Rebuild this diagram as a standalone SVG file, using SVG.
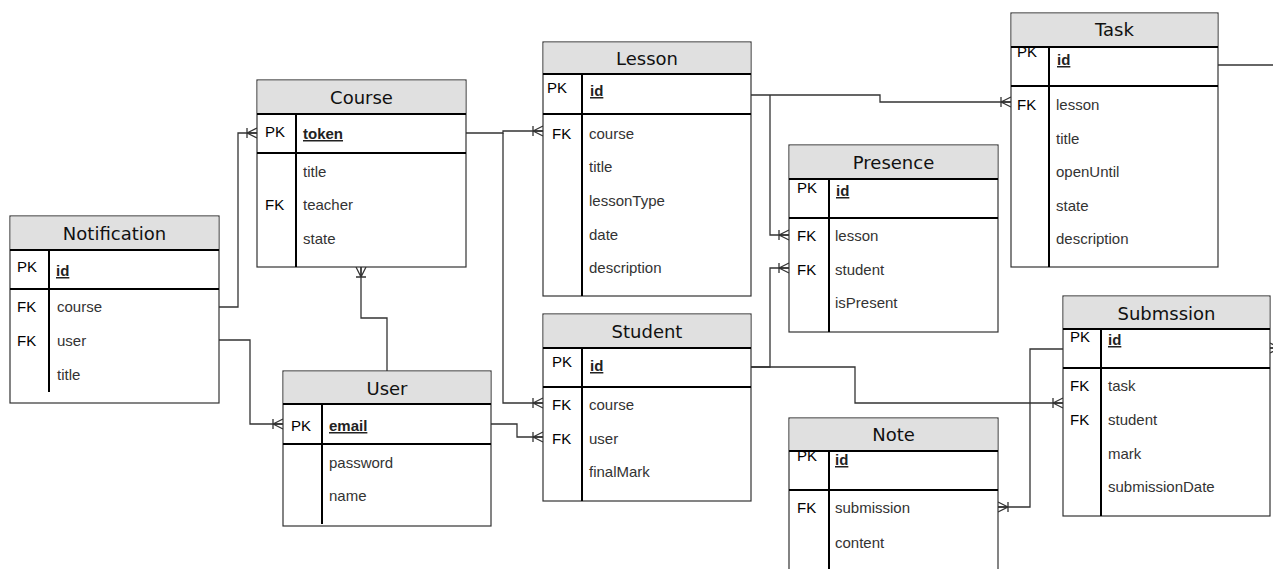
<svg xmlns="http://www.w3.org/2000/svg" width="1273" height="569" viewBox="0 0 1273 569">
<defs>
<style>
.bg{fill:#ffffff}
.box{fill:#ffffff;stroke:#333333;stroke-width:1.2}
.hdr{fill:#e0e0e0;stroke:none}
.thick{stroke:#000000;stroke-width:2;fill:none}
.ttl{font-family:"DejaVu Sans",sans-serif;font-size:18px;fill:#111111;text-anchor:middle}
.key{font-family:"Liberation Sans",Arial,sans-serif;font-size:15px;fill:#000000}
.fld{font-family:"Liberation Sans",Arial,sans-serif;font-size:15px;fill:#333333}
.pk{font-family:"Liberation Sans",Arial,sans-serif;font-size:15px;font-weight:bold;fill:#222222;text-decoration:underline}
.conn{fill:none;stroke:#333333;stroke-width:1.3}
</style>
<marker id="many" viewBox="0 0 12 12" markerWidth="12" markerHeight="12" refX="12" refY="6" orient="auto" markerUnits="userSpaceOnUse" overflow="visible">
<path d="M2,6 L12,1 M2,6 L12,11 M2,1 L2,11 M2,6 L12,6" fill="none" stroke="#333333" stroke-width="1.3"/>
</marker>
</defs>
<rect class="bg" x="0" y="0" width="1273" height="569"/>

<g id="connectors">
<path class="conn" d="M219,307 H238 V133 H257" marker-end="url(#many)"/>
<path class="conn" d="M219,340 H250 V424 H283" marker-end="url(#many)"/>
<path class="conn" d="M387,371 V318 H361 V267" marker-end="url(#many)"/>
<path class="conn" d="M466,133 H503 V131 H543" marker-end="url(#many)"/>
<path class="conn" d="M503,133 V403 H543" marker-end="url(#many)"/>
<path class="conn" d="M491,424 H517 V437 H543" marker-end="url(#many)"/>
<path class="conn" d="M751,95 H880 V102 H1011" marker-end="url(#many)"/>
<path class="conn" d="M770,95 V235 H789" marker-end="url(#many)"/>
<path class="conn" d="M751,367 H770 V268 H789" marker-end="url(#many)"/>
<path class="conn" d="M751,367 H855 V403 H1063" marker-end="url(#many)"/>
<path class="conn" d="M1063,349 H1030 V507 H998" marker-end="url(#many)"/>
<path class="conn" d="M1218,65 H1273"/>
<path class="conn" d="M1300,348 H1270" marker-end="url(#many)"/>
</g>

<g id="notification">
<rect class="box" x="10" y="216" width="209" height="187"/>
<rect class="hdr" x="10.6" y="216.6" width="207.8" height="33.4"/>
<text class="ttl" x="114.5" y="240">Notification</text>
<text class="key" x="17" y="272">PK</text>
<text class="pk" x="56" y="276">id</text>
<text class="key" x="17" y="312">FK</text>
<text class="fld" x="57" y="312">course</text>
<text class="key" x="17" y="346">FK</text>
<text class="fld" x="57" y="346">user</text>
<text class="fld" x="57" y="380">title</text>
<line class="thick" x1="10" y1="250" x2="219" y2="250"/>
<line class="thick" x1="10" y1="289" x2="219" y2="289"/>
<line class="thick" x1="49" y1="250" x2="49" y2="392"/>
</g>

<g id="course">
<rect class="box" x="257" y="80" width="209" height="187"/>
<rect class="hdr" x="257.6" y="80.6" width="207.8" height="33.4"/>
<text class="ttl" x="361.5" y="103.5">Course</text>
<text class="key" x="265" y="137">PK</text>
<text class="pk" x="303" y="139">token</text>
<text class="fld" x="303" y="177">title</text>
<text class="key" x="265" y="210">FK</text>
<text class="fld" x="303" y="210">teacher</text>
<text class="fld" x="303" y="244">state</text>
<line class="thick" x1="257" y1="114" x2="466" y2="114"/>
<line class="thick" x1="257" y1="153" x2="466" y2="153"/>
<line class="thick" x1="296" y1="114" x2="296" y2="267"/>
</g>

<g id="user">
<rect class="box" x="283" y="371" width="208" height="155"/>
<rect class="hdr" x="283.6" y="371.6" width="206.8" height="32.4"/>
<text class="ttl" x="387" y="394.5">User</text>
<text class="key" x="291" y="431">PK</text>
<text class="pk" x="329" y="431">email</text>
<text class="fld" x="329" y="467.5">password</text>
<text class="fld" x="329" y="500.5">name</text>
<line class="thick" x1="283" y1="404" x2="491" y2="404"/>
<line class="thick" x1="283" y1="444" x2="491" y2="444"/>
<line class="thick" x1="322" y1="404" x2="322" y2="524"/>
</g>

<g id="lesson">
<rect class="box" x="543" y="42" width="208" height="254"/>
<rect class="hdr" x="543.6" y="42.6" width="206.8" height="31.4"/>
<text class="ttl" x="647" y="65">Lesson</text>
<text class="key" x="547" y="93">PK</text>
<text class="pk" x="590" y="96">id</text>
<text class="key" x="552" y="138.5">FK</text>
<text class="fld" x="589" y="138.5">course</text>
<text class="fld" x="589" y="172">title</text>
<text class="fld" x="589" y="205.5">lessonType</text>
<text class="fld" x="589" y="239.5">date</text>
<text class="fld" x="589" y="273">description</text>
<line class="thick" x1="543" y1="74" x2="751" y2="74"/>
<line class="thick" x1="543" y1="114" x2="751" y2="114"/>
<line class="thick" x1="582" y1="74" x2="582" y2="296"/>
</g>

<g id="student">
<rect class="box" x="543" y="314" width="208" height="187"/>
<rect class="hdr" x="543.6" y="314.6" width="206.8" height="33.4"/>
<text class="ttl" x="647" y="337.5">Student</text>
<text class="key" x="552" y="367">PK</text>
<text class="pk" x="590" y="371">id</text>
<text class="key" x="552" y="410">FK</text>
<text class="fld" x="589" y="410">course</text>
<text class="key" x="552" y="443.5">FK</text>
<text class="fld" x="589" y="443.5">user</text>
<text class="fld" x="589" y="477">finalMark</text>
<line class="thick" x1="543" y1="348" x2="751" y2="348"/>
<line class="thick" x1="543" y1="387" x2="751" y2="387"/>
<line class="thick" x1="582" y1="348" x2="582" y2="501"/>
</g>

<g id="presence">
<rect class="box" x="789" y="145" width="209" height="187"/>
<rect class="hdr" x="789.6" y="145.6" width="207.8" height="33.4"/>
<text class="ttl" x="893.5" y="168.5">Presence</text>
<text class="key" x="797" y="193">PK</text>
<text class="pk" x="836" y="196">id</text>
<text class="key" x="797" y="241">FK</text>
<text class="fld" x="835" y="241">lesson</text>
<text class="key" x="797" y="275">FK</text>
<text class="fld" x="835" y="275">student</text>
<text class="fld" x="835" y="308">isPresent</text>
<line class="thick" x1="789" y1="179" x2="998" y2="179"/>
<line class="thick" x1="789" y1="218" x2="998" y2="218"/>
<line class="thick" x1="829" y1="179" x2="829" y2="332"/>
</g>

<g id="task">
<rect class="box" x="1011" y="13" width="207" height="254"/>
<text class="key" x="1017" y="57">PK</text>
<rect class="hdr" x="1011.6" y="13.6" width="205.8" height="33.4"/>
<text class="ttl" x="1114.5" y="36">Task</text>
<text class="pk" x="1057" y="65">id</text>
<text class="key" x="1017" y="110">FK</text>
<text class="fld" x="1056" y="110">lesson</text>
<text class="fld" x="1056" y="143.5">title</text>
<text class="fld" x="1056" y="177">openUntil</text>
<text class="fld" x="1056" y="210.5">state</text>
<text class="fld" x="1056" y="244">description</text>
<line class="thick" x1="1011" y1="47" x2="1218" y2="47"/>
<line class="thick" x1="1011" y1="86" x2="1218" y2="86"/>
<line class="thick" x1="1049" y1="47" x2="1049" y2="267"/>
</g>

<g id="submission">
<rect class="box" x="1063" y="296" width="207" height="220"/>
<text class="key" x="1070" y="341.5">PK</text>
<rect class="hdr" x="1063.6" y="296.6" width="205.8" height="32.4"/>
<text class="ttl" x="1166.5" y="319.5">Submssion</text>
<text class="pk" x="1108" y="345">id</text>
<text class="key" x="1070" y="391">FK</text>
<text class="fld" x="1108" y="391">task</text>
<text class="key" x="1070" y="425">FK</text>
<text class="fld" x="1108" y="425">student</text>
<text class="fld" x="1108" y="458.5">mark</text>
<text class="fld" x="1108" y="492">submissionDate</text>
<line class="thick" x1="1063" y1="329" x2="1270" y2="329"/>
<line class="thick" x1="1063" y1="368" x2="1270" y2="368"/>
<line class="thick" x1="1101" y1="329" x2="1101" y2="516"/>
</g>

<g id="note">
<rect class="box" x="789" y="418" width="209" height="170"/>
<text class="key" x="797" y="461">PK</text>
<rect class="hdr" x="789.6" y="418.6" width="207.8" height="32.4"/>
<text class="ttl" x="893.5" y="441">Note</text>
<text class="pk" x="835" y="465">id</text>
<text class="key" x="797" y="513">FK</text>
<text class="fld" x="835" y="513">submission</text>
<text class="fld" x="835" y="548">content</text>
<line class="thick" x1="789" y1="451" x2="998" y2="451"/>
<line class="thick" x1="789" y1="490" x2="998" y2="490"/>
<line class="thick" x1="829" y1="451" x2="829" y2="588"/>
</g>
</svg>
